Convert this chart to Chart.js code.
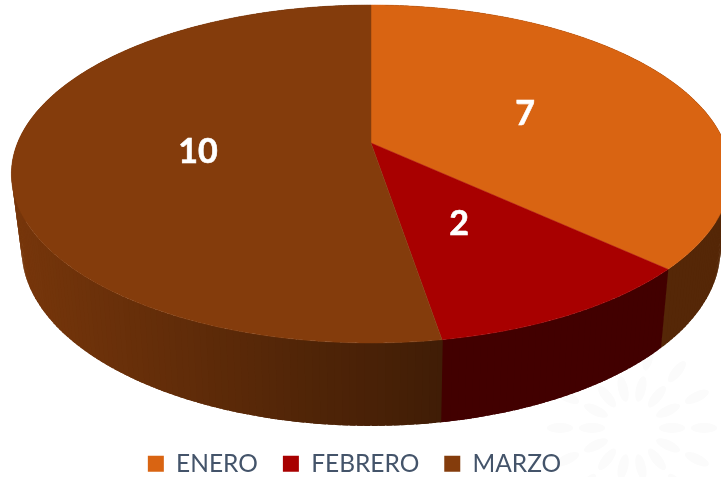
<!DOCTYPE html>
<html>
<head>
<meta charset="utf-8">
<style>
  html, body { margin: 0; padding: 0; background: #fff; overflow: hidden; }
  #wrap { width: 721px; height: 477px; }
</style>
<script src="https://cdn.jsdelivr.net/npm/chart.js@4"></script>
</head>
<body>
<div id="wrap"><canvas id="pie"></canvas></div>
<script>
const categories = ['ENERO', 'FEBRERO', 'MARZO'];
const values = [7, 2, 10];
const colors = ['#D96412', '#A80000', '#843C0C'];

// perspective of the disc: top face and the lower rim
const topRing = { cx: 371, cy: 143, a: 353.5, b: 163.3, k: 0.1834 };
const lowRing = { cx: 371, cy: 216, a: 343, b: 170, k: 0.19 };
const labelSpots = [[525, 114], [459, 224], [198, 152]];

function project(ring, angle) {
  const u = Math.cos(angle);
  const v = Math.sin(angle);
  const d = 1 - ring.k * v;
  return [ring.cx + ring.a * u / d, ring.cy + ring.b * v / d];
}

function shadeColor(hex, f) {
  const n = parseInt(hex.slice(1), 16);
  const r = Math.round((n >> 16) * f);
  const g = Math.round(((n >> 8) & 255) * f);
  const b = Math.round((n & 255) * f);
  return `rgb(${r},${g},${b})`;
}

function wallShade(index, x) {
  if (index !== 2) return 0.39;
  const t = Math.min(1, Math.max(0, (x - 22) / (441 - 22)));
  return 0.9 - 0.42 * t;
}

function drawWatermark(ctx) {
  ctx.save();
  ctx.fillStyle = '#fbfbfb';
  [[632, 428, 72], [632, 428, 40]].forEach(([x, y, r]) => {
    for (let i = 0; i < 14; i++) {
      const a = i * Math.PI / 7;
      ctx.beginPath();
      ctx.ellipse(x + r * Math.cos(a), y + r * Math.sin(a), 13, 5, a, 0, Math.PI * 2);
      ctx.fill();
    }
  });
  ctx.restore();
}

const pie3d = {
  id: 'pie3d',
  beforeDraw(chart) {
    drawWatermark(chart.ctx);
  },
  // the arcs keep their angles from the library, only the painting is replaced
  beforeDatasetsDraw(chart) {
    const ctx = chart.ctx;
    const arcs = chart.getDatasetMeta(0).data;
    const strips = [];
    const deg = Math.PI / 180;

    arcs.forEach((arc, i) => {
      const steps = Math.ceil((arc.endAngle - arc.startAngle) / deg);
      const da = (arc.endAngle - arc.startAngle) / steps;
      for (let s = 0; s < steps; s++) {
        // each strip runs a little into its neighbours so no seams show
        strips.push({
          i,
          a0: arc.startAngle + s * da - da * (s > 0 ? 0.4 : 0.1),
          a1: arc.startAngle + (s + 1) * da + da * (s < steps - 1 ? 0.4 : 0.1)
        });
      }
    });
    strips.sort((p, q) => Math.sin((p.a0 + p.a1) / 2) - Math.sin((q.a0 + q.a1) / 2));

    strips.forEach(st => {
      const t0 = project(topRing, st.a0);
      const t1 = project(topRing, st.a1);
      const b0 = project(lowRing, st.a0);
      const b1 = project(lowRing, st.a1);
      ctx.fillStyle = shadeColor(colors[st.i], wallShade(st.i, (b0[0] + b1[0]) / 2));
      ctx.beginPath();
      ctx.moveTo(t0[0], t0[1]);
      ctx.lineTo(t1[0], t1[1]);
      ctx.lineTo(b1[0], b1[1]);
      ctx.lineTo(b0[0], b0[1]);
      ctx.closePath();
      ctx.fill();
    });

    arcs.forEach((arc, i) => {
      const steps = Math.ceil((arc.endAngle - arc.startAngle) / (deg / 2));
      ctx.fillStyle = colors[i];
      ctx.strokeStyle = colors[i];
      ctx.lineWidth = 0.5;
      ctx.beginPath();
      ctx.moveTo(topRing.cx, topRing.cy);
      for (let s = 0; s <= steps; s++) {
        const p = project(topRing, arc.startAngle + (arc.endAngle - arc.startAngle) * s / steps);
        ctx.lineTo(p[0], p[1]);
      }
      ctx.closePath();
      ctx.fill();
      ctx.stroke();
    });

    ctx.save();
    ctx.fillStyle = '#ffffff';
    ctx.strokeStyle = '#ffffff';
    ctx.lineWidth = 0.6;
    ctx.font = 'bold 34px Lato';
    ctx.textAlign = 'center';
    ctx.textBaseline = 'middle';
    values.forEach((val, i) => {
      ctx.fillText(String(val), labelSpots[i][0], labelSpots[i][1]);
      ctx.strokeText(String(val), labelSpots[i][0], labelSpots[i][1]);
    });
    ctx.restore();
    return false;
  }
};

new Chart(document.getElementById('pie'), {
  type: 'pie',
  data: {
    labels: categories,
    datasets: [{
      data: values,
      backgroundColor: colors,
      borderWidth: 0
    }]
  },
  options: {
    responsive: true,
    maintainAspectRatio: false,
    animation: false,
    layout: { padding: { bottom: -9, right: 12 } },
    plugins: {
      tooltip: { enabled: false },
      legend: {
        position: 'bottom',
        labels: {
          color: '#44546A',
          boxWidth: 16,
          boxHeight: 16,
          padding: 25,
          font: { family: 'Lato', size: 24.5 }
        }
      }
    }
  },
  plugins: [pie3d]
});
</script>
</body>
</html>
